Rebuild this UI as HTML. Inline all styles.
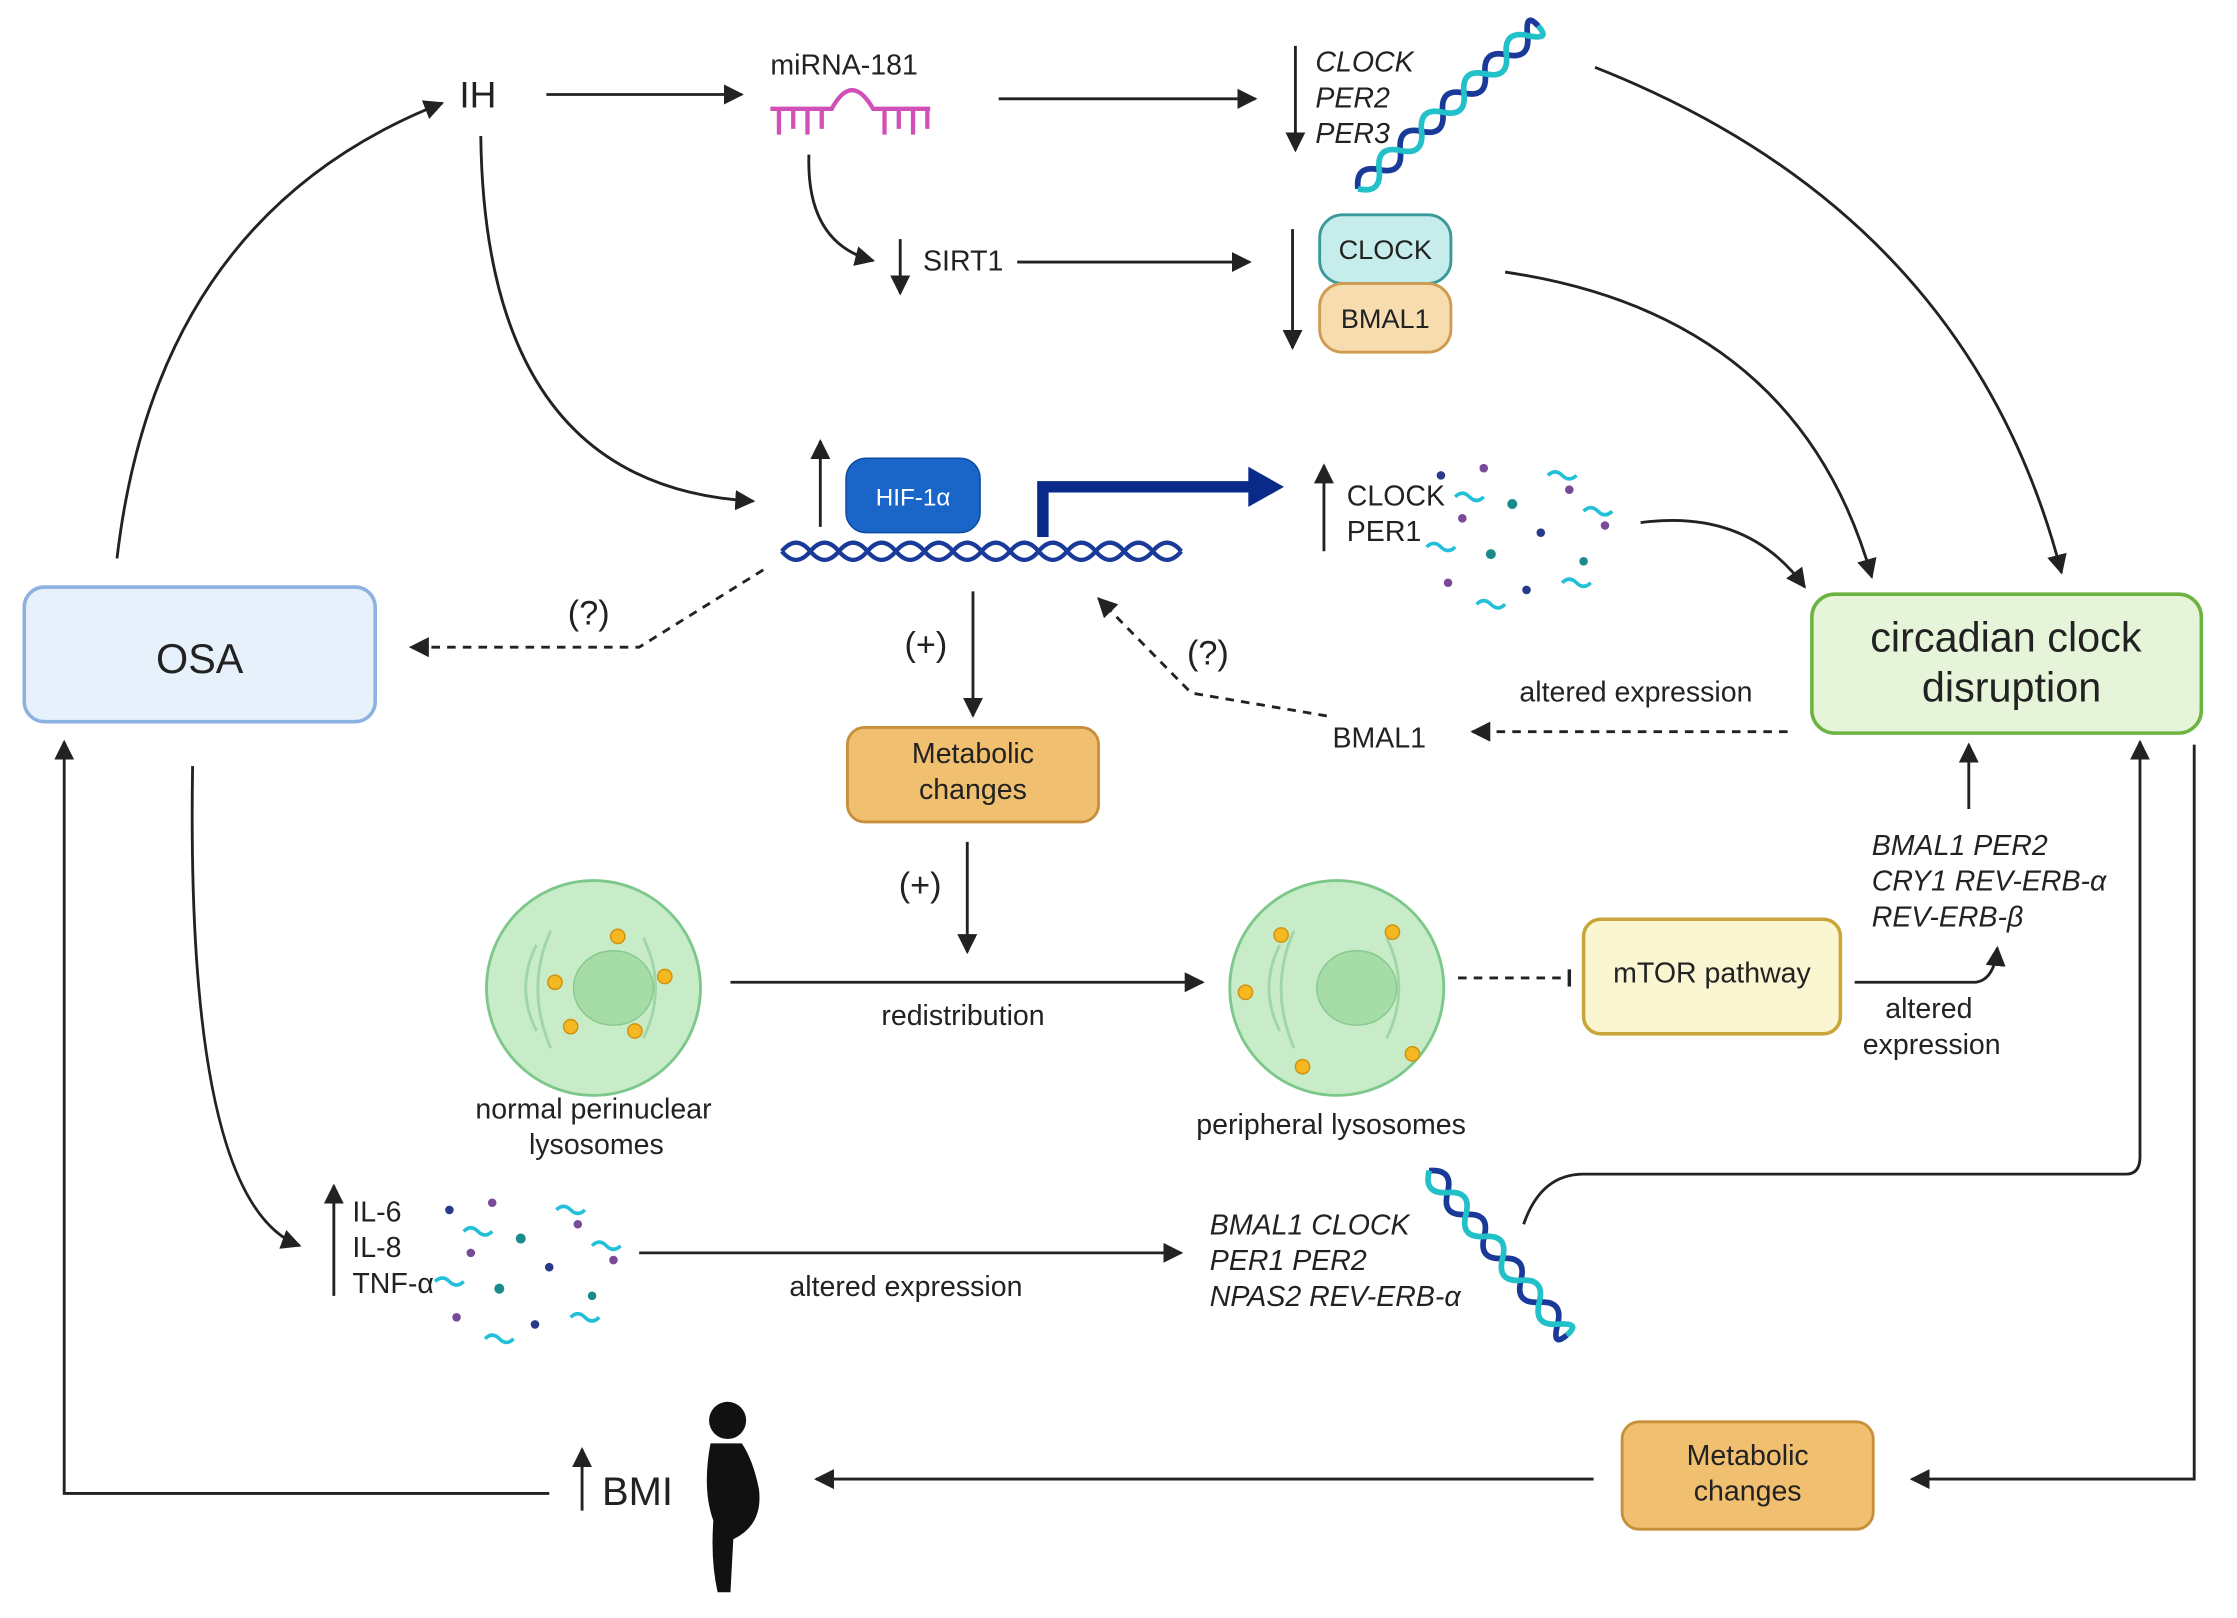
<!DOCTYPE html>
<html><head><meta charset="utf-8"><style>
html,body{margin:0;padding:0;background:#fff;}
svg{display:block;}
text{font-family:"Liberation Sans",sans-serif;fill:#222;}
.it{font-style:italic;}
</style></head><body>
<svg width="2237" height="1618" viewBox="0 0 1568 1130" preserveAspectRatio="none" xmlns="http://www.w3.org/2000/svg">
<defs>
<marker id="a" viewBox="0 0 10 10" refX="9" refY="5" markerWidth="7" markerHeight="7" orient="auto-start-reverse"><path d="M0,0 L10,5 L0,10 z" fill="#222"/></marker>
<marker id="b" viewBox="0 0 10 10" refX="5" refY="5" markerWidth="6" markerHeight="10" orient="auto"><path d="M5,0 L5,10" stroke="#222" stroke-width="2"/></marker>
<g id="cell">
<circle r="75" fill="#c8ecc8" stroke="#7cc88a" stroke-width="2"/>
<path d="M-40,-30 Q-55,0 -40,30 M-30,-40 Q-48,0 -30,42 M35,-35 Q52,0 35,35" stroke="#9fd6a8" fill="none" stroke-width="2"/>
<ellipse cx="14" cy="0" rx="28" ry="26" fill="#a6dca6" stroke="#88c890"/>
</g>
<g id="dots">
<circle cx="10" cy="10" r="3" fill="#2a3a8a"/><circle cx="40" cy="5" r="3" fill="#7a4a9a"/><circle cx="60" cy="30" r="3.5" fill="#1a8a8a"/>
<circle cx="25" cy="40" r="3" fill="#7a4a9a"/><circle cx="80" cy="50" r="3" fill="#2a3a8a"/><circle cx="45" cy="65" r="3.5" fill="#1a8a8a"/>
<circle cx="100" cy="20" r="3" fill="#7a4a9a"/><circle cx="110" cy="70" r="3" fill="#1a8a8a"/><circle cx="15" cy="85" r="3" fill="#7a4a9a"/>
<circle cx="70" cy="90" r="3" fill="#2a3a8a"/><circle cx="125" cy="45" r="3" fill="#7a4a9a"/>
<path d="M20,25 q5,-5 10,0 t10,0 M85,10 q5,-5 10,0 t10,0 M0,60 q5,-5 10,0 t10,0 M95,85 q5,-5 10,0 t10,0 M35,100 q5,-5 10,0 t10,0 M110,35 q5,-5 10,0 t10,0" stroke="#22c0d8" fill="none" stroke-width="2.5"/>
</g>
</defs>
<g stroke="#222" stroke-width="2" fill="none">
<line x1="383" y1="66" x2="520" y2="66" marker-end="url(#a)"/>
<line x1="700" y1="69" x2="880" y2="69" marker-end="url(#a)"/>
<line x1="908" y1="32" x2="908" y2="105" marker-end="url(#a)"/>
<path d="M1118,47 Q1380,150 1445,400" marker-end="url(#a)"/>
<path d="M567,108 Q565,170 612,182" marker-end="url(#a)"/>
<line x1="631" y1="167" x2="631" y2="205" marker-end="url(#a)"/>
<line x1="713" y1="183" x2="876" y2="183" marker-end="url(#a)"/>
<line x1="906" y1="160" x2="906" y2="243" marker-end="url(#a)"/>
<path d="M1055,190 Q1260,220 1312,403" marker-end="url(#a)"/>
<path d="M337,95 Q340,340 528,350" marker-end="url(#a)"/>
<path d="M82,390 Q110,150 310,72" marker-end="url(#a)"/>
<line x1="575" y1="368" x2="575" y2="308" marker-end="url(#a)"/>
<line x1="928" y1="385" x2="928" y2="325" marker-end="url(#a)"/>
<path d="M1150,365 Q1225,355 1265,410" marker-end="url(#a)"/>
<path d="M535,398 L448,452 L288,452" stroke-dasharray="6,5" marker-end="url(#a)"/>
<line x1="682" y1="413" x2="682" y2="500" marker-end="url(#a)"/>
<line x1="1253" y1="511" x2="1032" y2="511" stroke-dasharray="6,5" marker-end="url(#a)"/>
<path d="M930,500 L835,484 L770,418" stroke-dasharray="6,5" marker-end="url(#a)"/>
<line x1="678" y1="588" x2="678" y2="665" marker-end="url(#a)"/>
<line x1="512" y1="686" x2="843" y2="686" marker-end="url(#a)"/>
<line x1="1022" y1="683" x2="1100" y2="683" stroke-dasharray="6,5" marker-end="url(#b)"/>
<path d="M1300,686 L1385,686 Q1398,684 1400,662" marker-end="url(#a)"/>
<line x1="1380" y1="565" x2="1380" y2="520" marker-end="url(#a)"/>
<path d="M135,535 Q130,840 210,870" marker-end="url(#a)"/>
<line x1="234" y1="905" x2="234" y2="828" marker-end="url(#a)"/>
<line x1="448" y1="875" x2="828" y2="875" marker-end="url(#a)"/>
<path d="M1068,855 Q1080,820 1110,820 L1490,820 Q1500,820 1500,808 L1500,518" marker-end="url(#a)"/>
<path d="M1538,520 L1538,1033 L1340,1033" marker-end="url(#a)"/>
<line x1="1117" y1="1033" x2="572" y2="1033" marker-end="url(#a)"/>
<line x1="408" y1="1055" x2="408" y2="1012" marker-end="url(#a)"/>
<path d="M385,1043 L45,1043 L45,518" marker-end="url(#a)"/>
</g>
<!-- miRNA hairpin -->
<g stroke="#d050b8" stroke-width="3" fill="none">
<path d="M540,76 L583,76 Q597,50 612,76 L652,76"/>
<path d="M546,76v18M556,76v14M566,76v18M576,76v14M620,76v18M630,76v14M640,76v18M650,76v14"/>
</g>
<!-- DNA diag top -->
<g transform="translate(1015,75) rotate(-42)">
<path d="M-85,0 q10,-14 20,0 t20,0 t20,0 t20,0 t20,0 t20,0 t20,0 t20,0 t10,0" stroke="#1a3a9a" stroke-width="4" fill="none"/>
<path d="M-85,0 q10,14 20,0 t20,0 t20,0 t20,0 t20,0 t20,0 t20,0 t20,0 t10,0" stroke="#22c0c8" stroke-width="4" fill="none"/>
</g>
<!-- DNA diag bottom -->
<g transform="translate(1050,875) rotate(50)">
<path d="M-75,0 q10,-14 20,0 t20,0 t20,0 t20,0 t20,0 t20,0 t20,0 t10,0" stroke="#1a3a9a" stroke-width="4" fill="none"/>
<path d="M-75,0 q10,14 20,0 t20,0 t20,0 t20,0 t20,0 t20,0 t20,0 t10,0" stroke="#22c0c8" stroke-width="4" fill="none"/>
</g>
<!-- horizontal DNA -->
<path d="M548,385 q10,-12 20,0 t20,0 t20,0 t20,0 t20,0 t20,0 t20,0 t20,0 t20,0 t20,0 t20,0 t20,0 t20,0 t20,0" stroke="#1a3a9a" stroke-width="3" fill="none"/>
<path d="M548,385 q10,12 20,0 t20,0 t20,0 t20,0 t20,0 t20,0 t20,0 t20,0 t20,0 t20,0 t20,0 t20,0 t20,0 t20,0" stroke="#1a3a9a" stroke-width="3" fill="none"/>
<path d="M731,375 L731,340 L880,340" stroke="#0a2a8a" stroke-width="8" fill="none"/>
<path d="M875,326 L900,340 L875,354 z" fill="#0a2a8a"/>
<rect x="593" y="320" width="94" height="52" rx="14" fill="#1a66c8" stroke="#0a4aa0"/>
<text x="640" y="353" font-size="17" text-anchor="middle" style="fill:#fff">HIF-1α</text>
<!-- boxes -->
<rect x="925" y="150" width="92" height="48" rx="16" fill="#c6ecec" stroke="#3a9a9a" stroke-width="2"/>
<text x="971" y="181" font-size="19" text-anchor="middle">CLOCK</text>
<rect x="925" y="198" width="92" height="48" rx="16" fill="#f7dcb0" stroke="#d09a50" stroke-width="2"/>
<text x="971" y="229" font-size="19" text-anchor="middle">BMAL1</text>
<rect x="1270" y="415" width="273" height="97" rx="16" fill="#e6f4d9" stroke="#6cb342" stroke-width="2.5"/>
<text x="1406" y="455" font-size="29" text-anchor="middle">circadian clock</text>
<text x="1410" y="490" font-size="29" text-anchor="middle">disruption</text>
<rect x="17" y="410" width="246" height="94" rx="14" fill="#e7f1fb" stroke="#8bb2e0" stroke-width="2.5"/>
<text x="140" y="470" font-size="29" text-anchor="middle">OSA</text>
<rect x="594" y="508" width="176" height="66" rx="12" fill="#f0c070" stroke="#c88f3a" stroke-width="2"/>
<text x="682" y="533" font-size="20" text-anchor="middle">Metabolic</text>
<text x="682" y="558" font-size="20" text-anchor="middle">changes</text>
<rect x="1137" y="993" width="176" height="75" rx="12" fill="#f0c070" stroke="#c88f3a" stroke-width="2"/>
<text x="1225" y="1023" font-size="20" text-anchor="middle">Metabolic</text>
<text x="1225" y="1048" font-size="20" text-anchor="middle">changes</text>
<rect x="1110" y="642" width="180" height="80" rx="12" fill="#fbf6d2" stroke="#c9a63a" stroke-width="2.5"/>
<text x="1200" y="686" font-size="20" text-anchor="middle">mTOR  pathway</text>
<!-- cells -->
<use href="#cell" x="416" y="690"/>
<g fill="#f5b820" stroke="#d09010"><circle cx="433" cy="654" r="5"/><circle cx="389" cy="686" r="5"/><circle cx="466" cy="682" r="5"/><circle cx="400" cy="717" r="5"/><circle cx="445" cy="720" r="5"/></g>
<use href="#cell" x="937" y="690"/>
<g fill="#f5b820" stroke="#d09010"><circle cx="898" cy="653" r="5"/><circle cx="976" cy="651" r="5"/><circle cx="873" cy="693" r="5"/><circle cx="990" cy="736" r="5"/><circle cx="913" cy="745" r="5"/></g>
<use href="#dots" x="1000" y="322"/>
<use href="#dots" x="305" y="835"/>
<!-- person -->
<g fill="#111"><circle cx="510" cy="992" r="13"/><path d="M498,1008 Q492,1040 500,1062 Q498,1090 503,1112 L512,1112 L514,1075 Q535,1065 532,1040 Q528,1020 520,1008 z"/></g>
<!-- text -->
<text x="322" y="75" font-size="26">IH</text>
<text x="540" y="52" font-size="20">miRNA-181</text>
<text class="it" x="922" y="50" font-size="20">CLOCK</text>
<text class="it" x="922" y="75" font-size="20">PER2</text>
<text class="it" x="922" y="100" font-size="20">PER3</text>
<text x="647" y="189" font-size="20">SIRT1</text>
<text x="944" y="353" font-size="20">CLOCK</text>
<text x="944" y="378" font-size="20">PER1</text>
<text x="398" y="436" font-size="24">(?)</text>
<text x="634" y="458" font-size="24">(+)</text>
<text x="832" y="464" font-size="24">(?)</text>
<text x="1065" y="490" font-size="20">altered expression</text>
<text x="934" y="522" font-size="20">BMAL1</text>
<text x="630" y="626" font-size="24">(+)</text>
<text x="675" y="716" font-size="20" text-anchor="middle">redistribution</text>
<text x="416" y="781" font-size="20" text-anchor="middle">normal perinuclear</text>
<text x="418" y="806" font-size="20" text-anchor="middle">lysosomes</text>
<text x="933" y="792" font-size="20" text-anchor="middle">peripheral lysosomes</text>
<text x="1352" y="711" font-size="20" text-anchor="middle">altered</text>
<text x="1354" y="736" font-size="20" text-anchor="middle">expression</text>
<text class="it" x="1312" y="597" font-size="20">BMAL1  PER2</text>
<text class="it" x="1312" y="622" font-size="20">CRY1 REV-ERB-α</text>
<text class="it" x="1312" y="647" font-size="20">REV-ERB-β</text>
<text x="247" y="853" font-size="20">IL-6</text>
<text x="247" y="878" font-size="20">IL-8</text>
<text x="247" y="903" font-size="20">TNF-α</text>
<text x="635" y="905" font-size="20" text-anchor="middle">altered expression</text>
<text class="it" x="848" y="862" font-size="20">BMAL1  CLOCK</text>
<text class="it" x="848" y="887" font-size="20">PER1  PER2</text>
<text class="it" x="848" y="912" font-size="20">NPAS2  REV-ERB-α</text>
<text x="422" y="1051" font-size="28">BMI</text>
</svg>
</body></html>
